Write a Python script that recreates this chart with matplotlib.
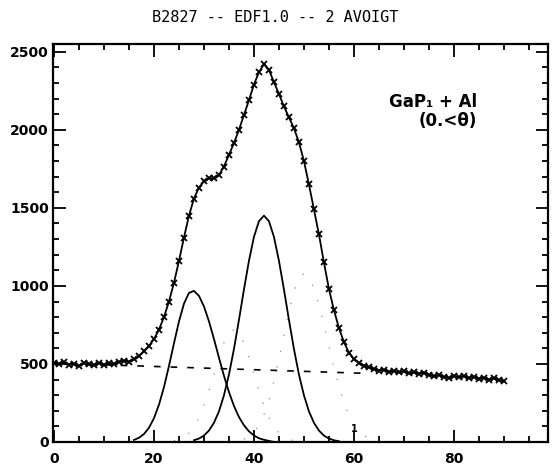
import numpy as np
import matplotlib
matplotlib.use('Agg')
import matplotlib.pyplot as plt
from matplotlib.ticker import MultipleLocator

# measured spectrum (x markers), step 1
data_x = np.arange(0, 91)
data_y = [505, 498, 510, 494, 502, 488, 506, 497, 492, 508,
          496, 503, 500, 512, 522, 515, 530, 550, 580, 615,
          660, 720, 800, 900, 1020, 1160, 1310, 1450, 1560, 1630,
          1670, 1690, 1690, 1710, 1765, 1840, 1915, 2000, 2095, 2190,
          2290, 2370, 2420, 2385, 2305, 2230, 2150, 2080, 2010, 1920,
          1800, 1650, 1490, 1330, 1150, 980, 845, 730, 640, 572,
          530, 507, 488, 478, 468, 458, 462, 450, 455, 446,
          452, 440, 447, 438, 445, 432, 420, 428, 418, 412,
          420, 415, 424, 410, 418, 406, 412, 400, 408, 396, 390]

# linear background (dashed)
bg_x = [0, 62]
bg_y = [505, 440]

# first voigt component (solid)
p1_x = np.arange(16, 45)
p1_y = [13, 27, 51, 91, 152, 239, 351, 487, 632, 772,
        886, 955, 968, 936, 869, 773, 660, 540, 424, 320,
        231, 160, 107, 68, 42, 24, 14, 7, 0]

# second voigt component (solid)
p2_x = np.arange(28, 58)
p2_y = [11, 22, 41, 73, 123, 196, 299, 432, 596, 782,
        977, 1161, 1314, 1415, 1450, 1415, 1314, 1161, 977, 782,
        596, 432, 299, 196, 123, 73, 41, 22, 11, 5]

# faint dotted components
d1_x = np.arange(24, 49)
d1_y = [8, 16, 32, 57, 97, 156, 234, 330, 437, 543,
        635, 698, 720, 698, 635, 543, 437, 330, 234, 156,
        97, 57, 32, 16, 8]
d2_x = np.arange(38, 64)
d2_y = [18, 35, 64, 109, 176, 269, 389, 531, 686, 837,
        964, 1050, 1080, 1056, 986, 881, 752, 613, 478, 356,
        254, 173, 112, 70, 41, 24]

fig = plt.figure(figsize=(5.53, 4.69), dpi=100)
ax = fig.add_axes([0.0958, 0.0576, 0.895, 0.8486])

ax.plot(d1_x, d1_y, color='0.55', lw=0.9, dashes=(1, 12))
ax.plot(d2_x, d2_y, color='0.55', lw=0.9, dashes=(1, 12))
ax.plot(bg_x, bg_y, color='black', lw=1.2, dashes=(4, 6))
ax.plot(p1_x, p1_y, color='black', lw=1.3)
ax.plot(p2_x, p2_y, color='black', lw=1.3)
ax.plot(data_x, data_y, color='black', lw=1.3, marker='x', ms=5, mew=1.3)

ax.set_xlim(-0.2, 98.8)
ax.set_ylim(0, 2550)
ax.xaxis.set_major_locator(MultipleLocator(20))
ax.xaxis.set_minor_locator(MultipleLocator(5))
ax.yaxis.set_major_locator(MultipleLocator(500))
ax.yaxis.set_minor_locator(MultipleLocator(100))
ax.tick_params(which='both', direction='in', top=True, right=True, width=1.3)
ax.tick_params(which='major', length=9, labelsize=10, pad=3)
ax.tick_params(axis='x', which='major', pad=7)
ax.tick_params(which='minor', length=4)
for lab in ax.get_xticklabels() + ax.get_yticklabels():
    lab.set_fontweight('bold')
for s in ax.spines.values():
    s.set_linewidth(1.6)

ax.text(67, 2180, 'GaP\u2081 + Al', fontsize=12, fontweight='bold', va='center')
ax.text(73, 2055, '(0.<\u03b8)', fontsize=12, fontweight='bold', va='center')
ax.text(60, 80, '1', fontsize=7, fontweight='bold', ha='center', va='center')

fig.text(0.497, 0.962, 'B2827 -- EDF1.0 -- 2 AVOIGT', ha='center', va='center',
         fontsize=11, family='DejaVu Sans Mono')

fig.savefig('out.png', dpi=100)
